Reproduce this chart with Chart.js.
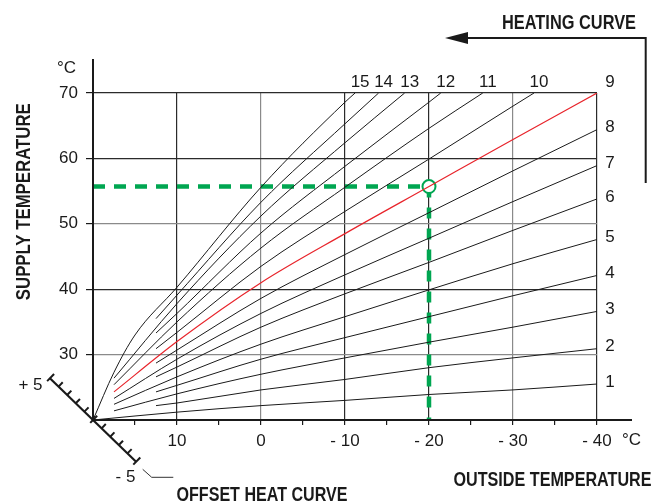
<!DOCTYPE html>
<html>
<head>
    <title>Heating Curve</title>
    <style>
        body {
            margin: 0;
            background: #fff;
        }
        .wrap {
            width: 655px;
            height: 502px;
        }
    </style>
    <script src="https://cdn.jsdelivr.net/npm/chart.js"></script>
</head>
<body>
    <div class="wrap">
        <canvas id="curveChart" width="655" height="502"></canvas>
    </div>

    <script>
        // Heating curves 1..15: supply temperature vs outside temperature
        const curveNames = ['1', '2', '3', '4', '5', '6', '7', '8', '9', '10', '11', '12', '13', '14', '15'];

        const outsideFromOrigin = [20, 10, 0, -10, -20, -30, -40];
        const outsideOdd = [17.5, 10, 0, -10, -20, -30, -40];
        const outsideEven = [12.5, 10, 0, -10, -20, -30, -40];

        const supply1 = [20, 21.2, 22.2, 23.0, 23.9, 24.6, 25.5];
        const supply2 = [22.2, 22.6, 24.6, 26.2, 28.0, 29.5, 30.9];
        const supply3 = [21.4, 24.0, 27.0, 29.5, 31.9, 34.2, 36.6];
        const supply4 = [24.3, 25.3, 29.3, 32.6, 35.8, 39.0, 42.1];
        const supply5 = [22.4, 26.6, 31.6, 35.8, 39.9, 43.9, 47.6];
        const supply6 = [26.6, 28.1, 34.2, 39.3, 44.1, 49.0, 53.8];
        const supply7 = [23.3, 29.3, 36.3, 42.2, 47.8, 53.4, 58.9];
        const supply8 = [28.7, 30.7, 38.6, 45.3, 51.7, 58.1, 64.4];
        const supply9 = [24.3, 32.0, 41.0, 48.5, 55.7, 62.9, 70];

        const outside10 = [12.5, 10, 0, -10, -20, -30, -32.5];
        const supply10 = [30.9, 33.4, 43.5, 51.9, 59.9, 68.0, 70];
        const outside11 = [17.5, 10, 0, -10, -20, -26.4];
        const supply11 = [25.4, 35.0, 46.3, 55.6, 64.6, 70];
        const outside12 = [12.5, 10, 0, -10, -20, -21.4];
        const supply12 = [33.3, 36.3, 48.6, 58.8, 68.6, 70];
        const outside13 = [17.5, 10, 0, -10, -17.1];
        const supply13 = [26.4, 37.8, 51.2, 62.4, 70];
        const outside14 = [12.5, 10, 0, -10, -14];
        const supply14 = [35.5, 39.1, 53.3, 65.3, 70];
        const outside15 = [20, 17.5, 15, 10, 0, -10, -11.2];
        const supply15 = [20, 27.3, 33.0, 40.3, 55.6, 68.6, 70];

        const curveOutside = [outsideFromOrigin, outsideEven, outsideOdd, outsideEven, outsideOdd, outsideEven,
            outsideOdd, outsideEven, outsideOdd, outside10, outside11, outside12, outside13, outside14, outside15];
        const curveSupply = [supply1, supply2, supply3, supply4, supply5, supply6, supply7, supply8, supply9,
            supply10, supply11, supply12, supply13, supply14, supply15];
        const highlightCurve = '9';

        // reading example: -20 °C outside -> supply temperature
        const setOutside = -20;
        const setSupply = 55.7;

        const outsideTicks = [10, 0, -10, -20, -30, -40];
        const outsideTickLabels = ['10', '0', '- 10', '- 20', '- 30', '- 40'];
        const supplyTicks = [70, 60, 50, 40, 30];
        const supplyTickLabels = ['70', '60', '50', '40', '30'];
        const grayOutside = [0, -30];
        const graySupply = [50, 30];

        const numFont = '17px "Liberation Sans", Arial, sans-serif';
        const titleFont = 'bold 20px "Liberation Sans", Arial, sans-serif';
        const ink = '#1a1a1a';
        const green = '#00a651';

        const datasets = curveNames.map((name, i) => ({
            label: name,
            data: curveOutside[i].map((t, j) => ({ x: t, y: curveSupply[i][j] })),
            showLine: true,
            borderColor: name === highlightCurve ? '#e8242b' : ink,
            borderWidth: name === highlightCurve ? 1.2 : 1,
            pointRadius: 0,
            cubicInterpolationMode: 'monotone',
            order: 0
        }));

        datasets.push({
            label: 'marker',
            data: [{ x: setOutside, y: setSupply }],
            showLine: false,
            pointRadius: 6.5,
            pointBorderWidth: 2,
            pointBorderColor: green,
            pointBackgroundColor: '#fff',
            order: 1
        });
        datasets.push({
            label: 'setH',
            data: [{ x: 20, y: setSupply }, { x: setOutside, y: setSupply }],
            showLine: true,
            borderColor: green,
            borderWidth: 4.5,
            borderDash: [12, 9],
            pointRadius: 0,
            order: 2
        });
        datasets.push({
            label: 'setV',
            data: [{ x: setOutside, y: setSupply }, { x: setOutside, y: 20 }],
            showLine: true,
            borderColor: green,
            borderWidth: 4.5,
            borderDash: [11, 10],
            pointRadius: 0,
            order: 2
        });

        // draw text squeezed to a given width (condensed look)
        function fitText(c, text, cx, cy, width, font, angle) {
            c.save();
            c.font = font;
            const w = c.measureText(text).width;
            c.translate(cx, cy);
            if (angle) c.rotate(angle);
            c.scale(width / w, 1);
            c.textAlign = 'center';
            c.textBaseline = 'alphabetic';
            c.fillText(text, 0, 7.2);
            c.restore();
        }

        const decorPlugin = {
            id: 'decor',
            afterDraw(chart) {
                const c = chart.ctx;
                const xs = chart.scales.x;
                const ys = chart.scales.y;
                const ox = xs.getPixelForValue(20);
                const oy = ys.getPixelForValue(20);
                const area = chart.chartArea;

                c.save();
                c.strokeStyle = ink;
                c.fillStyle = ink;

                // axes
                c.lineWidth = 2;
                c.beginPath();
                c.moveTo(ox, 59);
                c.lineTo(ox, oy);
                c.lineTo(632, oy);
                c.stroke();

                // curve numbers
                c.font = numFont;
                c.textAlign = 'center';
                c.textBaseline = 'middle';
                chart.data.datasets.forEach((ds, i) => {
                    if (i >= curveNames.length) return;
                    const pts = chart.getDatasetMeta(i).data;
                    const p = pts[pts.length - 1];
                    if (p.x >= area.right - 1) {
                        const dy = p.y <= area.top + 1 ? -11 : -2;
                        c.fillText(ds.label, p.x + 13, p.y + dy);
                    } else {
                        c.fillText(ds.label, p.x + 5, p.y - 11);
                    }
                });

                // units
                c.textAlign = 'left';
                c.fillText('°C', 57, 68);
                c.fillText('°C', 622, 440);

                // offset heat curve scale
                const ux = 0.718, uy = 0.696;
                const nx = 0.696, ny = -0.718;
                const step = 12;
                c.lineWidth = 2.2;
                c.beginPath();
                c.moveTo(ox - 5 * step * ux, oy - 5 * step * uy);
                c.lineTo(ox + 5 * step * ux, oy + 5 * step * uy);
                c.stroke();
                c.lineWidth = 2;
                for (let k = -5; k <= 5; k++) {
                    const px = ox - k * step * ux;
                    const py = oy - k * step * uy;
                    const back = (k === 0 || Math.abs(k) === 5) ? 4 : 0;
                    c.beginPath();
                    c.moveTo(px - back * nx, py - back * ny);
                    c.lineTo(px + 6 * nx, py + 6 * ny);
                    c.stroke();
                }
                c.textAlign = 'center';
                c.fillText('+ 5', 30.5, 385);
                c.fillText('- 5', 125.5, 477);
                c.lineWidth = 1;
                c.strokeStyle = '#333';
                c.beginPath();
                c.moveTo(142.7, 469.3);
                c.lineTo(151.7, 477.3);
                c.lineTo(173.3, 477.3);
                c.stroke();

                // heating curve arrow
                c.strokeStyle = ink;
                c.lineWidth = 2;
                c.beginPath();
                c.moveTo(645.7, 183);
                c.lineTo(645.7, 38);
                c.lineTo(466, 38);
                c.stroke();
                c.beginPath();
                c.moveTo(445, 38);
                c.lineTo(468, 32);
                c.lineTo(468, 44);
                c.closePath();
                c.fill();

                // titles
                fitText(c, 'HEATING CURVE', 569, 22, 134, titleFont);
                fitText(c, 'SUPPLY TEMPERATURE', 22.5, 201.7, 197, titleFont, -Math.PI / 2);
                fitText(c, 'OUTSIDE TEMPERATURE', 552.5, 479, 198, titleFont);
                fitText(c, 'OFFSET HEAT CURVE', 262, 494, 171, titleFont);

                c.restore();
            }
        };

        function gridColor(value, grays) {
            if (value === 20) return 'rgba(0,0,0,0)';
            return grays.includes(value) ? '#8a8a8a' : '#2b2b2b';
        }

        new Chart(document.getElementById('curveChart').getContext('2d'), {
            type: 'scatter',
            data: { datasets: datasets },
            plugins: [decorPlugin],
            options: {
                responsive: false,
                animation: false,
                devicePixelRatio: 1,
                layout: { padding: { top: 93, right: 58, left: 0, bottom: 0 } },
                plugins: {
                    legend: { display: false },
                    tooltip: { enabled: false }
                },
                scales: {
                    x: {
                        type: 'linear',
                        min: -40,
                        max: 20,
                        reverse: true,
                        afterFit: scale => { scale.height = 82; },
                        border: { display: false },
                        grid: {
                            lineWidth: 1.2,
                            tickLength: 5,
                            color: ctx => outsideTicks.includes(ctx.tick.value) ? gridColor(ctx.tick.value, grayOutside) : 'rgba(0,0,0,0)',
                            tickColor: ctx => ctx.tick.value === 20 ? 'rgba(0,0,0,0)' : ink
                        },
                        ticks: {
                            stepSize: 5,
                            autoSkip: false,
                            maxRotation: 0,
                            padding: 6,
                            color: ink,
                            font: { family: '"Liberation Sans", Arial, sans-serif', size: 17 },
                            callback: value => {
                                const i = outsideTicks.indexOf(value);
                                return i >= 0 ? outsideTickLabels[i] : '';
                            }
                        }
                    },
                    y: {
                        type: 'linear',
                        min: 20,
                        max: 70,
                        afterFit: scale => { scale.width = 93; },
                        border: { display: false },
                        grid: {
                            lineWidth: 1.2,
                            tickLength: 7,
                            color: ctx => gridColor(ctx.tick.value, graySupply),
                            tickColor: ctx => ctx.tick.value === 20 ? 'rgba(0,0,0,0)' : ink
                        },
                        ticks: {
                            stepSize: 10,
                            padding: 8,
                            color: ink,
                            font: { family: '"Liberation Sans", Arial, sans-serif', size: 17 },
                            callback: value => {
                                const i = supplyTicks.indexOf(value);
                                return i >= 0 ? supplyTickLabels[i] : '';
                            }
                        }
                    }
                }
            }
        });
    </script>
</body>
</html>
